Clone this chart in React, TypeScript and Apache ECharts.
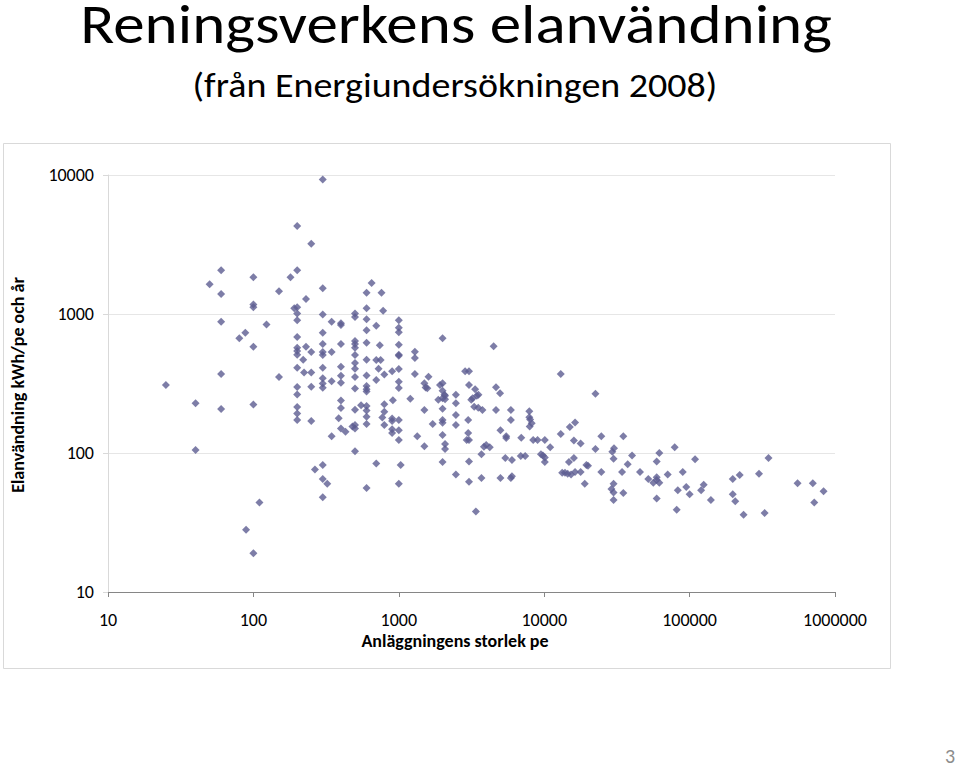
import React, { useEffect, useRef } from "react";
import * as echarts from "echarts";

// [plant size (pe), electricity use (kWh/pe och år)]
const smallPlants: [number, number][] = [
  [25, 308], [40, 228], [40, 105], [50, 1640], [60, 2060], [60, 1390], [60, 880], [60, 370], [60, 207],
  [80, 668], [88, 734], [89, 28], [100, 1840], [100, 1170], [100, 1120], [100, 582], [100, 223], [100, 19],
  [110, 44], [123, 840], [150, 1460], [150, 352], [180, 1840], [191, 1100],
  [200, 4300], [200, 2060], [200, 1120], [200, 1010], [200, 900], [200, 683], [200, 572], [200, 541],
  [200, 510], [200, 410], [200, 298], [200, 264], [200, 214], [200, 192], [200, 173], [220, 468],
  [230, 1280], [230, 582], [223, 380], [250, 3200], [250, 533], [250, 380], [250, 300], [250, 170], [265, 76],
  [300, 9300], [300, 1530], [300, 990], [300, 734], [300, 609], [300, 533], [300, 507], [300, 410],
  [300, 345], [300, 316], [300, 295], [300, 82], [300, 65], [300, 48], [322, 60],
  [345, 880], [345, 533], [345, 328], [345, 132],
  [400, 857], [400, 833], [400, 608], [400, 418], [400, 360], [400, 320], [400, 239], [400, 211],
  [386, 178], [400, 150], [430, 142],
  [500, 1010], [500, 950], [500, 640], [500, 608], [500, 572], [500, 507], [500, 444], [500, 403],
  [500, 352], [500, 291], [500, 205], [500, 159], [500, 150], [480, 155], [500, 103], [550, 221],
  [600, 1420], [600, 1100], [600, 915], [600, 763], [600, 621], [600, 468], [600, 361], [600, 303],
  [600, 288], [600, 277], [600, 218], [600, 202], [600, 182], [600, 162], [600, 56],
  [650, 1670], [700, 823], [700, 467], [700, 335], [700, 84], [740, 596], [750, 467], [726, 403],
  [760, 1420], [780, 1055], [795, 367], [795, 224], [795, 198], [770, 180], [795, 159],
  [910, 240], [900, 388], [900, 177], [900, 170], [900, 148], [900, 139],
];

const midPlants: [number, number][] = [
  [1000, 900], [1000, 795], [1000, 738], [1000, 600], [1000, 510], [1000, 500], [1000, 402], [1000, 325],
  [1000, 293], [1000, 173], [1000, 146], [1000, 124], [1030, 82], [1000, 60],
  [1200, 246], [1290, 536], [1290, 482], [1290, 370], [1340, 132],
  [1500, 317], [1530, 296], [1570, 292], [1500, 204], [1600, 354], [1500, 112], [1710, 162],
  [2000, 670], [2000, 317], [1920, 308], [2000, 280], [2060, 263], [2080, 258], [2000, 248], [1870, 242],
  [2080, 244], [2000, 208], [2000, 173], [2000, 165], [2000, 135], [2080, 116], [2080, 107], [2000, 86],
  [2470, 262], [2470, 228], [2470, 188], [2470, 159], [2470, 70],
  [2860, 388], [3040, 388], [3040, 309], [3000, 173], [3000, 139], [2930, 124], [3040, 124], [3040, 87], [3040, 62],
  [3350, 287], [3530, 262], [3440, 258], [3220, 248], [3150, 242], [3300, 215], [3520, 212], [3760, 204], [3390, 38],
  [3700, 98], [3850, 111], [3990, 114], [4220, 110], [3700, 66],
  [4490, 585], [4660, 297], [4970, 269], [4660, 204], [5000, 146], [5000, 66],
  [5480, 132], [5480, 128], [5900, 204], [5900, 173], [5400, 92], [6000, 89], [5900, 66], [6000, 68],
  [6950, 129], [6900, 95], [7400, 95],
  [7900, 200], [7900, 181], [8000, 174], [8200, 164], [7950, 155], [8400, 124], [9000, 124], [9500, 98], [9800, 96],
];

const largePlants: [number, number][] = [
  [10100, 124], [10100, 93], [10100, 86], [11000, 110],
  [13000, 370], [13000, 137], [15000, 154], [16300, 166], [16000, 123], [17800, 117], [16000, 92], [14800, 86],
  [13300, 72], [13900, 72], [14500, 71], [15300, 70], [16300, 73], [17800, 73],
  [19500, 82], [20000, 81], [19000, 60],
  [22500, 267], [22500, 107], [24700, 132], [24700, 73],
  [29400, 102], [30200, 108], [30000, 91], [29000, 55], [30000, 60], [30000, 52], [30000, 46],
  [35000, 132], [34300, 73], [37500, 83], [35000, 51.5], [40200, 96], [45600, 73],
  [52000, 65], [56300, 61], [59400, 67], [59400, 64], [61900, 61], [61900, 100], [59400, 87], [59400, 47],
  [70700, 70], [89700, 73], [79000, 110], [83000, 54], [94800, 57], [100000, 50.5], [81500, 39], [109000, 90],
  [120000, 54], [125000, 59], [140000, 46], [198000, 65], [198000, 50.5], [221000, 69.5], [206000, 45],
  [235000, 36], [300000, 71], [349000, 92], [328000, 37], [553000, 60.5], [704000, 60.5], [720000, 44], [834000, 53],
];

const xTicks = [10, 100, 1000, 10000, 100000, 1000000];
const yTicks = [10, 100, 1000, 10000];

const TITLE = "Reningsverkens elanvändning";
const SUBTITLE = "(från Energiundersökningen 2008)";
const Y_NAME = "Elanvändning kWh/pe och år";
const X_NAME = "Anläggningens storlek pe";
const PAGE_NO = "3";

const FONT = "Carlito, Calibri, Lato, sans-serif";

export default function App() {
  const ref = useRef<HTMLDivElement>(null);

  useEffect(() => {
    if (!ref.current) return;
    const chart = echarts.init(ref.current, undefined, { renderer: "svg" });
    const fmt = (v: number) => String(Math.round(v));
    const centered = { align: "center", verticalAlign: "middle", textAlign: "center", textVerticalAlign: "middle" };
    chart.setOption({
      animation: false,
      backgroundColor: "#ffffff",
      textStyle: { fontFamily: FONT },
      grid: { left: 108, right: 125, top: 175, bottom: 175 },
      xAxis: {
        type: "log",
        logBase: 10,
        min: xTicks[0],
        max: xTicks[xTicks.length - 1],
        axisLine: { show: true, lineStyle: { color: "#868686", width: 1 } },
        axisTick: { show: true, length: 5, lineStyle: { color: "#868686" } },
        axisLabel: { color: "#000", fontSize: 18, margin: 19, fontFamily: FONT, formatter: fmt },
        splitLine: { show: false },
        minorTick: { show: false },
      },
      yAxis: {
        type: "log",
        logBase: 10,
        min: yTicks[0],
        max: yTicks[yTicks.length - 1],
        axisLine: { show: true, lineStyle: { color: "#d9d9d9", width: 1 } },
        axisTick: { show: true, length: 5, lineStyle: { color: "#d9d9d9" } },
        axisLabel: { color: "#000", fontSize: 18, margin: 14, fontFamily: FONT, formatter: fmt },
        splitLine: { show: true, lineStyle: { color: "#e6e6e6", width: 1 } },
      },
      series: [
        {
          type: "scatter",
          symbol: "diamond",
          symbolSize: 8,
          itemStyle: { color: "#5c5c91" },
          data: [...smallPlants, ...midPlants, ...largePlants],
        },
      ],
      graphic: [
        {
          type: "rect",
          shape: { x: 3.5, y: 143.5, width: 887, height: 525 },
          style: { fill: "none", stroke: "#d9d9d9", lineWidth: 1 },
          silent: true,
        },
        {
          type: "text",
          x: 456,
          y: 0,
          scaleX: 1.125,
          style: {
            text: TITLE, fontSize: 56, lineHeight: 47, fontFamily: FONT, fill: "#000",
            align: "center", verticalAlign: "top", textAlign: "center", textVerticalAlign: "top",
          },
        },
        {
          type: "text",
          x: 455,
          y: 85,
          scaleX: 1.086,
          style: { text: SUBTITLE, fontSize: 35, fontFamily: FONT, fill: "#000", ...centered },
        },
        {
          type: "text",
          x: 18,
          y: 385,
          rotation: Math.PI / 2,
          style: { text: Y_NAME, fontSize: 18, fontWeight: "bold", fontFamily: FONT, fill: "#000", ...centered },
        },
        {
          type: "text",
          x: 455,
          y: 641,
          style: { text: X_NAME, fontSize: 18, fontWeight: "bold", fontFamily: FONT, fill: "#000", ...centered },
        },
        {
          type: "text",
          x: 950,
          y: 756,
          style: { text: PAGE_NO, fontSize: 20, fontFamily: FONT, fill: "#8c8c8c", ...centered },
        },
      ],
    });
    return () => chart.dispose();
  }, []);

  return (
    <div
      ref={ref}
      style={{ position: "fixed", left: 0, top: 0, width: 960, height: 767, background: "#fff" }}
    />
  );
}
